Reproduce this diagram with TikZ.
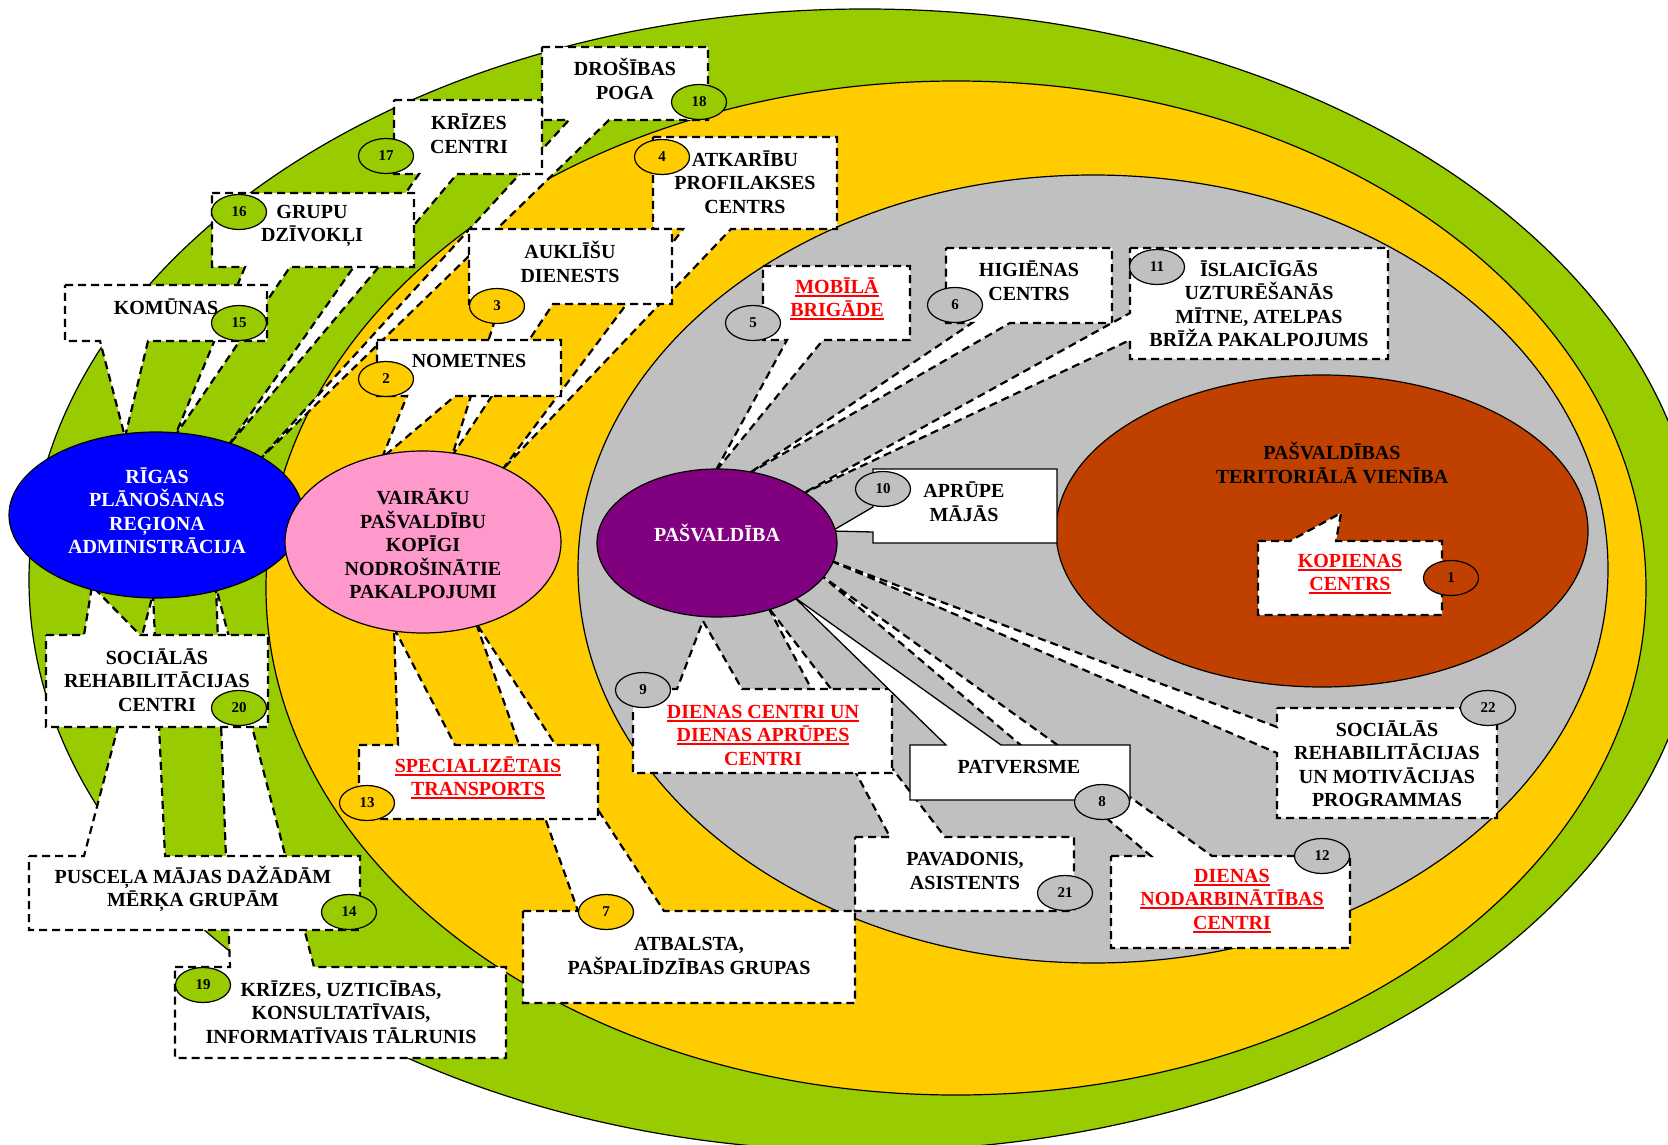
\documentclass[tikz,border=0pt]{standalone}
\usepackage{fontspec}
\setmainfont{Liberation Serif}
\usetikzlibrary{shapes.geometric}

\definecolor{ringgreen}{RGB}{153,204,0}
\definecolor{ringyellow}{RGB}{255,204,0}
\definecolor{ringgrey}{RGB}{192,192,192}
\definecolor{unitbrown}{RGB}{192,64,0}
\definecolor{regionblue}{RGB}{0,0,255}
\definecolor{jointpink}{RGB}{255,153,204}
\definecolor{munipurple}{RGB}{128,0,128}
\definecolor{linkred}{RGB}{255,0,0}

% red underlined service names
\newcommand{\redu}[1]{\leavevmode\setbox0=\hbox{#1}\rlap{\rule[-3.5pt]{\wd0}{2pt}}\box0}

\tikzset{
  ring/.style={draw, line width=1.2pt},
  hub/.style={ellipse, draw, line width=1.2pt, inner sep=0pt},
  callout/.style={draw, fill=white, line width=2.2pt, dash pattern=on 8pt off 5pt},
  plainbox/.style={draw, fill=white, line width=1.3pt},
  badge/.style={ellipse, draw, line width=1.2pt, inner sep=0pt, minimum width=55pt,
    minimum height=35pt, font=\fontsize{15}{15}\selectfont\bfseries},
  boxtext/.style={align=center, inner sep=0pt, font=\fontsize{20}{23.5}\selectfont\bfseries}
}

\begin{document}
\begin{tikzpicture}[x=1pt,y=-1pt]
\useasboundingbox (0,0) rectangle (1668,1145);
\clip (0,0) rectangle (1668,1145);

% levels
\draw[ring, fill=ringgreen] (865,580) ellipse [x radius=836pt, y radius=571pt];
\draw[ring, fill=ringyellow] (956,588) ellipse [x radius=690pt, y radius=507pt];
\draw[ring, fill=ringgrey] (1093,569) ellipse [x radius=515pt, y radius=394pt];
\node[hub, fill=unitbrown, minimum width=532pt, minimum height=312pt] (unit) at (1322,531) {};

% where the callout tails end
\coordinate (tip15) at (125,437);
\coordinate (tip16) at (175,436);
\coordinate (tip17) at (228,446);
\coordinate (tip18) at (260,459);
\coordinate (tip20) at (92,586);
\coordinate (tip14) at (153,594);
\coordinate (tip19) at (216,587);
\coordinate (tip2) at (382,458);
\coordinate (tip3) at (452,456);
\coordinate (tip4) at (502,470);
\coordinate (tip13) at (394,628);
\coordinate (tip7) at (476,623);
\coordinate (tip5) at (715,472);
\coordinate (tip6) at (748,474);
\coordinate (tip11) at (802,494);
\coordinate (tip10) at (832,531);
\coordinate (tip9) at (703,621);
\coordinate (tip21) at (768,607);
\coordinate (tip12) at (822,576);
\coordinate (tip8) at (794,597);
\coordinate (tip22) at (829,560);
\coordinate (tip1) at (1341,513);

% regional services
\draw[callout] (542,47) -- (708,47) -- (708,120) -- (609,120) -- (tip18) -- (569,120) -- (542,120) -- cycle;
\draw[callout] (394,100) -- (542,100) -- (542,174) -- (457,174) -- (tip17) -- (419,174) -- (394,174) -- cycle;
\draw[callout] (212,193) -- (414,193) -- (414,267) -- (290,267) -- (tip16) -- (245,267) -- (212,267) -- cycle;
\draw[callout] (65,285) -- (267,285) -- (267,341) -- (148,341) -- (tip15) -- (100,341) -- (65,341) -- cycle;
\draw[callout] (175,967) -- (230,967) -- (tip19) -- (314,967) -- (506,967) -- (506,1058) -- (175,1058) -- cycle;
\draw[callout] (29,856) -- (84,856) -- (tip14) -- (165,856) -- (360,856) -- (360,930) -- (29,930) -- cycle;
\draw[callout] (46,635) -- (84,635) -- (tip20) -- (140,635) -- (268,635) -- (268,727) -- (46,727) -- cycle;

% shared services
\draw[callout] (653,137) -- (837,137) -- (837,229) -- (731,229) -- (tip4) -- (683,229) -- (653,229) -- cycle;
\draw[callout] (469,229) -- (672,229) -- (672,304) -- (553,304) -- (tip3) -- (500,304) -- (469,304) -- cycle;
\draw[callout] (377,340) -- (561,340) -- (561,396) -- (455,396) -- (tip2) -- (407,396) -- (377,396) -- cycle;
\draw[callout] (523,911) -- (578,911) -- (tip7) -- (664,911) -- (855,911) -- (855,1003) -- (523,1003) -- cycle;
\draw[callout] (359,745) -- (398,745) -- (tip13) -- (455,745) -- (598,745) -- (598,819) -- (359,819) -- cycle;

% municipal services
\draw[callout] (763,266) -- (910,266) -- (910,340) -- (823,340) -- (tip5) -- (787,340) -- (763,340) -- cycle;
\draw[callout] (946,248) -- (1112,248) -- (1112,323) -- (1010,323) -- (tip6) -- (972,323) -- (946,323) -- cycle;
\draw[callout] (1130,248) -- (1388,248) -- (1388,359) -- (1130,359) -- (1130,340) -- (tip11) -- (1130,313) -- cycle;
\draw[plainbox] (873,469) -- (1057,469) -- (1057,543) -- (873,543) -- (873,532) -- (tip10) -- (873,507) -- cycle;
\draw[callout] (855,837) -- (890,837) -- (tip21) -- (945,837) -- (1074,837) -- (1074,911) -- (855,911) -- cycle;
\draw[callout] (633,689) -- (677,689) -- (tip9) -- (742,689) -- (892,689) -- (892,773) -- (633,773) -- cycle;
\draw[callout] (1111,856) -- (1151,856) -- (tip12) -- (1212,856) -- (1350,856) -- (1350,948) -- (1111,948) -- cycle;
\draw[plainbox] (910,745) -- (946,745) -- (tip8) -- (1001,745) -- (1130,745) -- (1130,800) -- (910,800) -- cycle;
\draw[callout] (1277,708) -- (1497,708) -- (1497,818) -- (1277,818) -- (1277,753) -- (tip22) -- (1277,727) -- cycle;
\draw[callout] (1258,541) -- (1290,541) -- (tip1) -- (1336,541) -- (1442,541) -- (1442,615) -- (1258,615) -- cycle;

% providers
\node[hub, fill=regionblue, minimum width=294pt, minimum height=166pt] (riga) at (156,515) {};
\node[hub, fill=jointpink, minimum width=276pt, minimum height=182pt] (joint) at (423,542) {};
\node[hub, fill=munipurple, minimum width=240pt, minimum height=148pt] (muni) at (717,543) {};

\foreach \n/\x/\y/\c in {1/1451/578/unitbrown, 2/386/379/ringyellow, 3/497/306/ringyellow,
    4/662/157/ringyellow, 5/753/323/ringgrey, 6/955/305/ringgrey, 7/606/912/ringyellow,
    8/1102/802/ringgrey, 9/643/690/ringgrey, 10/883/489/ringgrey, 11/1157/267/ringgrey,
    12/1322/856/ringgrey, 13/367/803/ringyellow, 14/349/912/ringgreen, 15/239/323/ringgreen,
    16/239/212/ringgreen, 17/386/156/ringgreen, 18/699/102/ringgreen, 19/203/985/ringgreen,
    20/239/708/ringgreen, 21/1065/893/ringgrey, 22/1488/708/ringgrey}{
  \node[badge, fill=\c] (b\n) at (\x,\y) {\n};
}

\node[boxtext, text=white] (rigat) at (157,511) {RĪGAS\\PLĀNOŠANAS\\REĢIONA\\ADMINISTRĀCIJA};
\node[boxtext] (jointt) at (423,544) {VAIRĀKU\\PAŠVALDĪBU\\KOPĪGI\\NODROŠINĀTIE\\PAKALPOJUMI};
\node[boxtext, text=white] (munit) at (717,533) {PAŠVALDĪBA};
\node[boxtext] (unitt) at (1332,463) {PAŠVALDĪBAS\\TERITORIĀLĀ VIENĪBA};

\node[boxtext] (t18) at (625,79) {DROŠĪBAS\\POGA};
\node[boxtext] (t17) at (469,134) {KRĪZES\\CENTRI};
\node[boxtext] (t16) at (312,226) {GRUPU\\DZĪVOKĻI};
\node[boxtext] (t15) at (166,307) {KOMŪNAS};
\node[boxtext] (t19) at (341,1012) {KRĪZES, UZTICĪBAS,\\KONSULTATĪVAIS,\\INFORMATĪVAIS TĀLRUNIS};
\node[boxtext] (t14) at (193,889) {PUSCEĻA MĀJAS DAŽĀDĀM\\MĒRĶA GRUPĀM};
\node[boxtext] (t20) at (157,680) {SOCIĀLĀS\\REHABILITĀCIJAS\\CENTRI};
\node[boxtext] (t4) at (745,182) {ATKARĪBU\\PROFILAKSES\\CENTRS};
\node[boxtext] (t3) at (570,262) {AUKLĪŠU\\DIENESTS};
\node[boxtext] (t2) at (469,361) {NOMETNES};
\node[boxtext] (t7) at (689,956) {ATBALSTA,\\PAŠPALĪDZĪBAS GRUPAS};
\node[boxtext, text=linkred] (t13) at (478,778) {\redu{SPECIALIZĒTAIS}\\\redu{TRANSPORTS}};
\node[boxtext, text=linkred] (t5) at (837,299) {\redu{MOBĪLĀ}\\\redu{BRIGĀDE}};
\node[boxtext] (t6) at (1029,281) {HIGIĒNAS\\CENTRS};
\node[boxtext] (t11) at (1259,304) {ĪSLAICĪGĀS\\UZTURĒŠANĀS\\MĪTNE, ATELPAS\\BRĪŽA PAKALPOJUMS};
\node[boxtext] (t10) at (964,502) {APRŪPE\\MĀJĀS};
\node[boxtext] (t21) at (965,871) {PAVADONIS,\\ASISTENTS};
\node[boxtext, text=linkred] (t9) at (763,735) {\redu{DIENAS CENTRI UN}\\\redu{DIENAS APRŪPES}\\CENTRI};
\node[boxtext, text=linkred] (t12) at (1232,901) {\redu{DIENAS}\\\redu{NODARBINĀTĪBAS}\\\redu{CENTRI}};
\node[boxtext] (t8) at (1019,767) {PATVERSME};
\node[boxtext] (t22) at (1387,764) {SOCIĀLĀS\\REHABILITĀCIJAS\\UN MOTIVĀCIJAS\\PROGRAMMAS};
\node[boxtext, text=linkred] (t1) at (1350,574) {\redu{KOPIENAS}\\\redu{CENTRS}};
\end{tikzpicture}
\end{document}
